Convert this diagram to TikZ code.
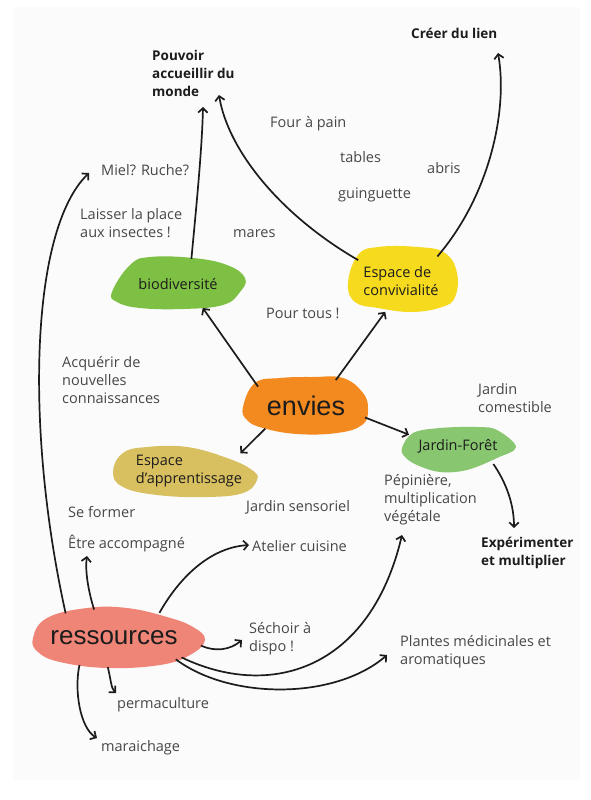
\documentclass[tikz,border=0pt]{standalone}
\usepackage{fontspec}
\setmainfont{Open Sans}
\newfontfamily\blobfont{Liberation Sans}
\usetikzlibrary{arrows.meta,shapes.geometric,calc}
\definecolor{ink}{HTML}{1c1c1c}
\definecolor{soft}{HTML}{474747}
\definecolor{paper}{HTML}{fbfbfb}
\definecolor{biogreen}{HTML}{7DC043}
\definecolor{leafgreen}{HTML}{88C670}
\definecolor{sunny}{HTML}{F6DA1E}
\definecolor{tangerine}{HTML}{F28A20}
\definecolor{ochre}{HTML}{D8BF60}
\definecolor{salmon}{HTML}{EF8577}

\begin{document}
\begin{tikzpicture}[x=1pt,y=-1pt,
  note/.style={anchor=west,inner sep=0pt,align=left,text=soft,
    font=\fontsize{14.5}{18}\selectfont},
  goal/.style={note,text=ink,font=\bfseries\fontsize{13.5}{18}\selectfont},
  blob/.style={ellipse,inner sep=0pt,align=left,text=ink,
    font=\fontsize{14.5}{18}\selectfont},
  bigblob/.style={blob,font=\blobfont\fontsize{27}{30}\selectfont},
  link/.style={ink,line width=1.7pt,-{Straight Barb[length=4.5pt,width=9.5pt]}}]

  % page + faint panel
  \useasboundingbox (0,0) rectangle (590,800);
  \fill[white] (0,0) rectangle (590,800);
  \fill[paper] (13,7) rectangle (580,780);

  % ---------------------------------------------------------------- BLOBS
  \fill[biogreen] plot[smooth cycle,tension=0.7] coordinates {(112,292) (130,265) (150,257) (193,258) (227,265) (245,278) (240,292) (223,305) (183,309) (140,308) (117,302)};
  \fill[sunny] plot[smooth cycle,tension=0.7] coordinates {(348,283) (358,255) (378,247) (418,247) (445,253) (457,273) (455,297) (442,307) (412,312) (378,308) (355,302)};
  \fill[tangerine] plot[smooth cycle,tension=0.7] coordinates {(243,407) (255,383) (280,378) (313,377) (343,378) (363,393) (368,410) (362,425) (337,433) (297,434) (263,428) (247,420)};
  \fill[leafgreen] plot[smooth cycle,tension=0.6] coordinates {(402,448) (413,433) (440,428) (477,427) (497,430) (516,447) (497,458) (467,470) (440,472) (417,465) (405,457)};
  \fill[ochre] plot[smooth cycle,tension=0.7] coordinates {(113,472) (123,453) (147,447) (187,447) (227,458) (252,470) (257,480) (243,493) (207,497) (157,495) (123,487)};
  \fill[salmon] plot[smooth cycle,tension=0.7] coordinates {(33,638) (47,618) (87,608) (127,608) (167,617) (193,627) (205,640) (190,655) (160,665) (107,668) (60,662) (38,652)};

  \node[blob,minimum width=135pt,minimum height=51pt] (bio) at (178,284) {biodiversité};
  \node[blob,minimum width=112pt,minimum height=64pt] (conv) at (401,281) {Espace de\\convivialité};
  \node[bigblob,minimum width=128pt,minimum height=58pt] (envies) at (306,406) {envies};
  \node[blob,minimum width=112pt,minimum height=46pt] (jf) at (458,446) {Jardin-Forêt};
  \node[blob,minimum width=145pt,minimum height=48pt] (app) at (189,471) {Espace\\d’apprentissage};
  \node[bigblob,font=\blobfont\fontsize{26}{30}\selectfont,minimum width=172pt,minimum height=58pt] (res) at (114,638) {ressources};

  % ---------------------------------------------------------------- GOALS
  \node[goal] (pouvoir) at (152,73) {Pouvoir\\accueillir du\\monde};
  \node[goal] (creer) at (411,33) {Créer du lien};
  \node[goal] (exp) at (481,553) {Expérimenter\\et multiplier};

  % ---------------------------------------------------------------- NOTES
  \node[note] (four) at (270,124) {Four à pain};
  \node[note] (tables) at (340,157) {tables};
  \node[note] (abris) at (427,168) {abris};
  \node[note] (guinguette) at (338,195) {guinguette};
  \node[note] (miel) at (101,170) {Miel? Ruche?};
  \node[note] (insectes) at (80,223) {Laisser la place\\aux insectes !};
  \node[note] (mares) at (233,234) {mares};
  \node[note] (tous) at (266,313) {Pour tous !};
  \node[note] (acquerir) at (62,380) {Acquérir de\\nouvelles\\connaissances};
  \node[note] (comestible) at (478,398) {Jardin\\comestible};
  \node[note] (former) at (68,512) {Se former};
  \node[note] (sensoriel) at (246,507) {Jardin sensoriel};
  \node[note] (pep) at (384,500) {Pépinière,\\multiplication\\végétale};
  \node[note] (etre) at (68,543) {Être accompagné};
  \node[note] (atelier) at (252,546) {Atelier cuisine};
  \node[note] (sechoir) at (249,639) {Séchoir à\\dispo !};
  \node[note] (plantes) at (400,652) {Plantes médicinales et\\aromatiques};
  \node[note] (perma) at (117,705) {permaculture};
  \node[note] (mara) at (101,748) {maraichage};

  % ---------------------------------------------------------------- ARROWS
  % envies out to the four spaces
  \draw[link] (envies.158) -- (bio.-44);
  \draw[link] (envies.41) -- (conv.-117);
  \draw[link] (envies.-151) -- (app.19);
  \draw[link] (envies.-11) -- (jf.167);

  % spaces up to the goals
  \draw[link] (bio.62) .. controls (196,210) and (202,150) .. ($(pouvoir.west)+(51,34)$);
  \draw[link] (conv.154) .. controls (280,215) and (228,150) .. ($(pouvoir.west)+(67,22)$);
  \draw[link] (conv.34) .. controls (490,195) and (508,110) .. ($(creer.west)+(87,20)$);
  \draw[link] (jf.-27) .. controls (503,478) and (514,500) .. ($(exp.west)+(33,-25)$);

  % ressources fan
  \draw[link] (res.153) .. controls (25,430) and (30,230) .. ($(miel.west)+(-12,3)$);
  \draw[link] (res.125) .. controls (88,590) and (85,570) .. ($(etre.west)+(19,13)$);
  \draw[link] (res.29) .. controls (175,585) and (205,548) .. ($(atelier.west)+(-3,-1)$);
  \draw[link] (res.-5) .. controls (215,652) and (230,650) .. ($(sechoir.west)+(-7,1)$);
  \draw[link] (res.-16) .. controls (270,700) and (370,670) .. ($(pep.west)+(18,35)$);
  \draw[link] (res.-19) .. controls (230,700) and (335,700) .. ($(plantes.west)+(-13,3)$);
  \draw[link] (res.-102) .. controls (111,680) and (111,688) .. ($(perma.west)+(-1,-12)$);
  \draw[link] (res.-142) .. controls (74,690) and (80,728) .. ($(mara.west)+(-4,-10)$);

\end{tikzpicture}
\end{document}
